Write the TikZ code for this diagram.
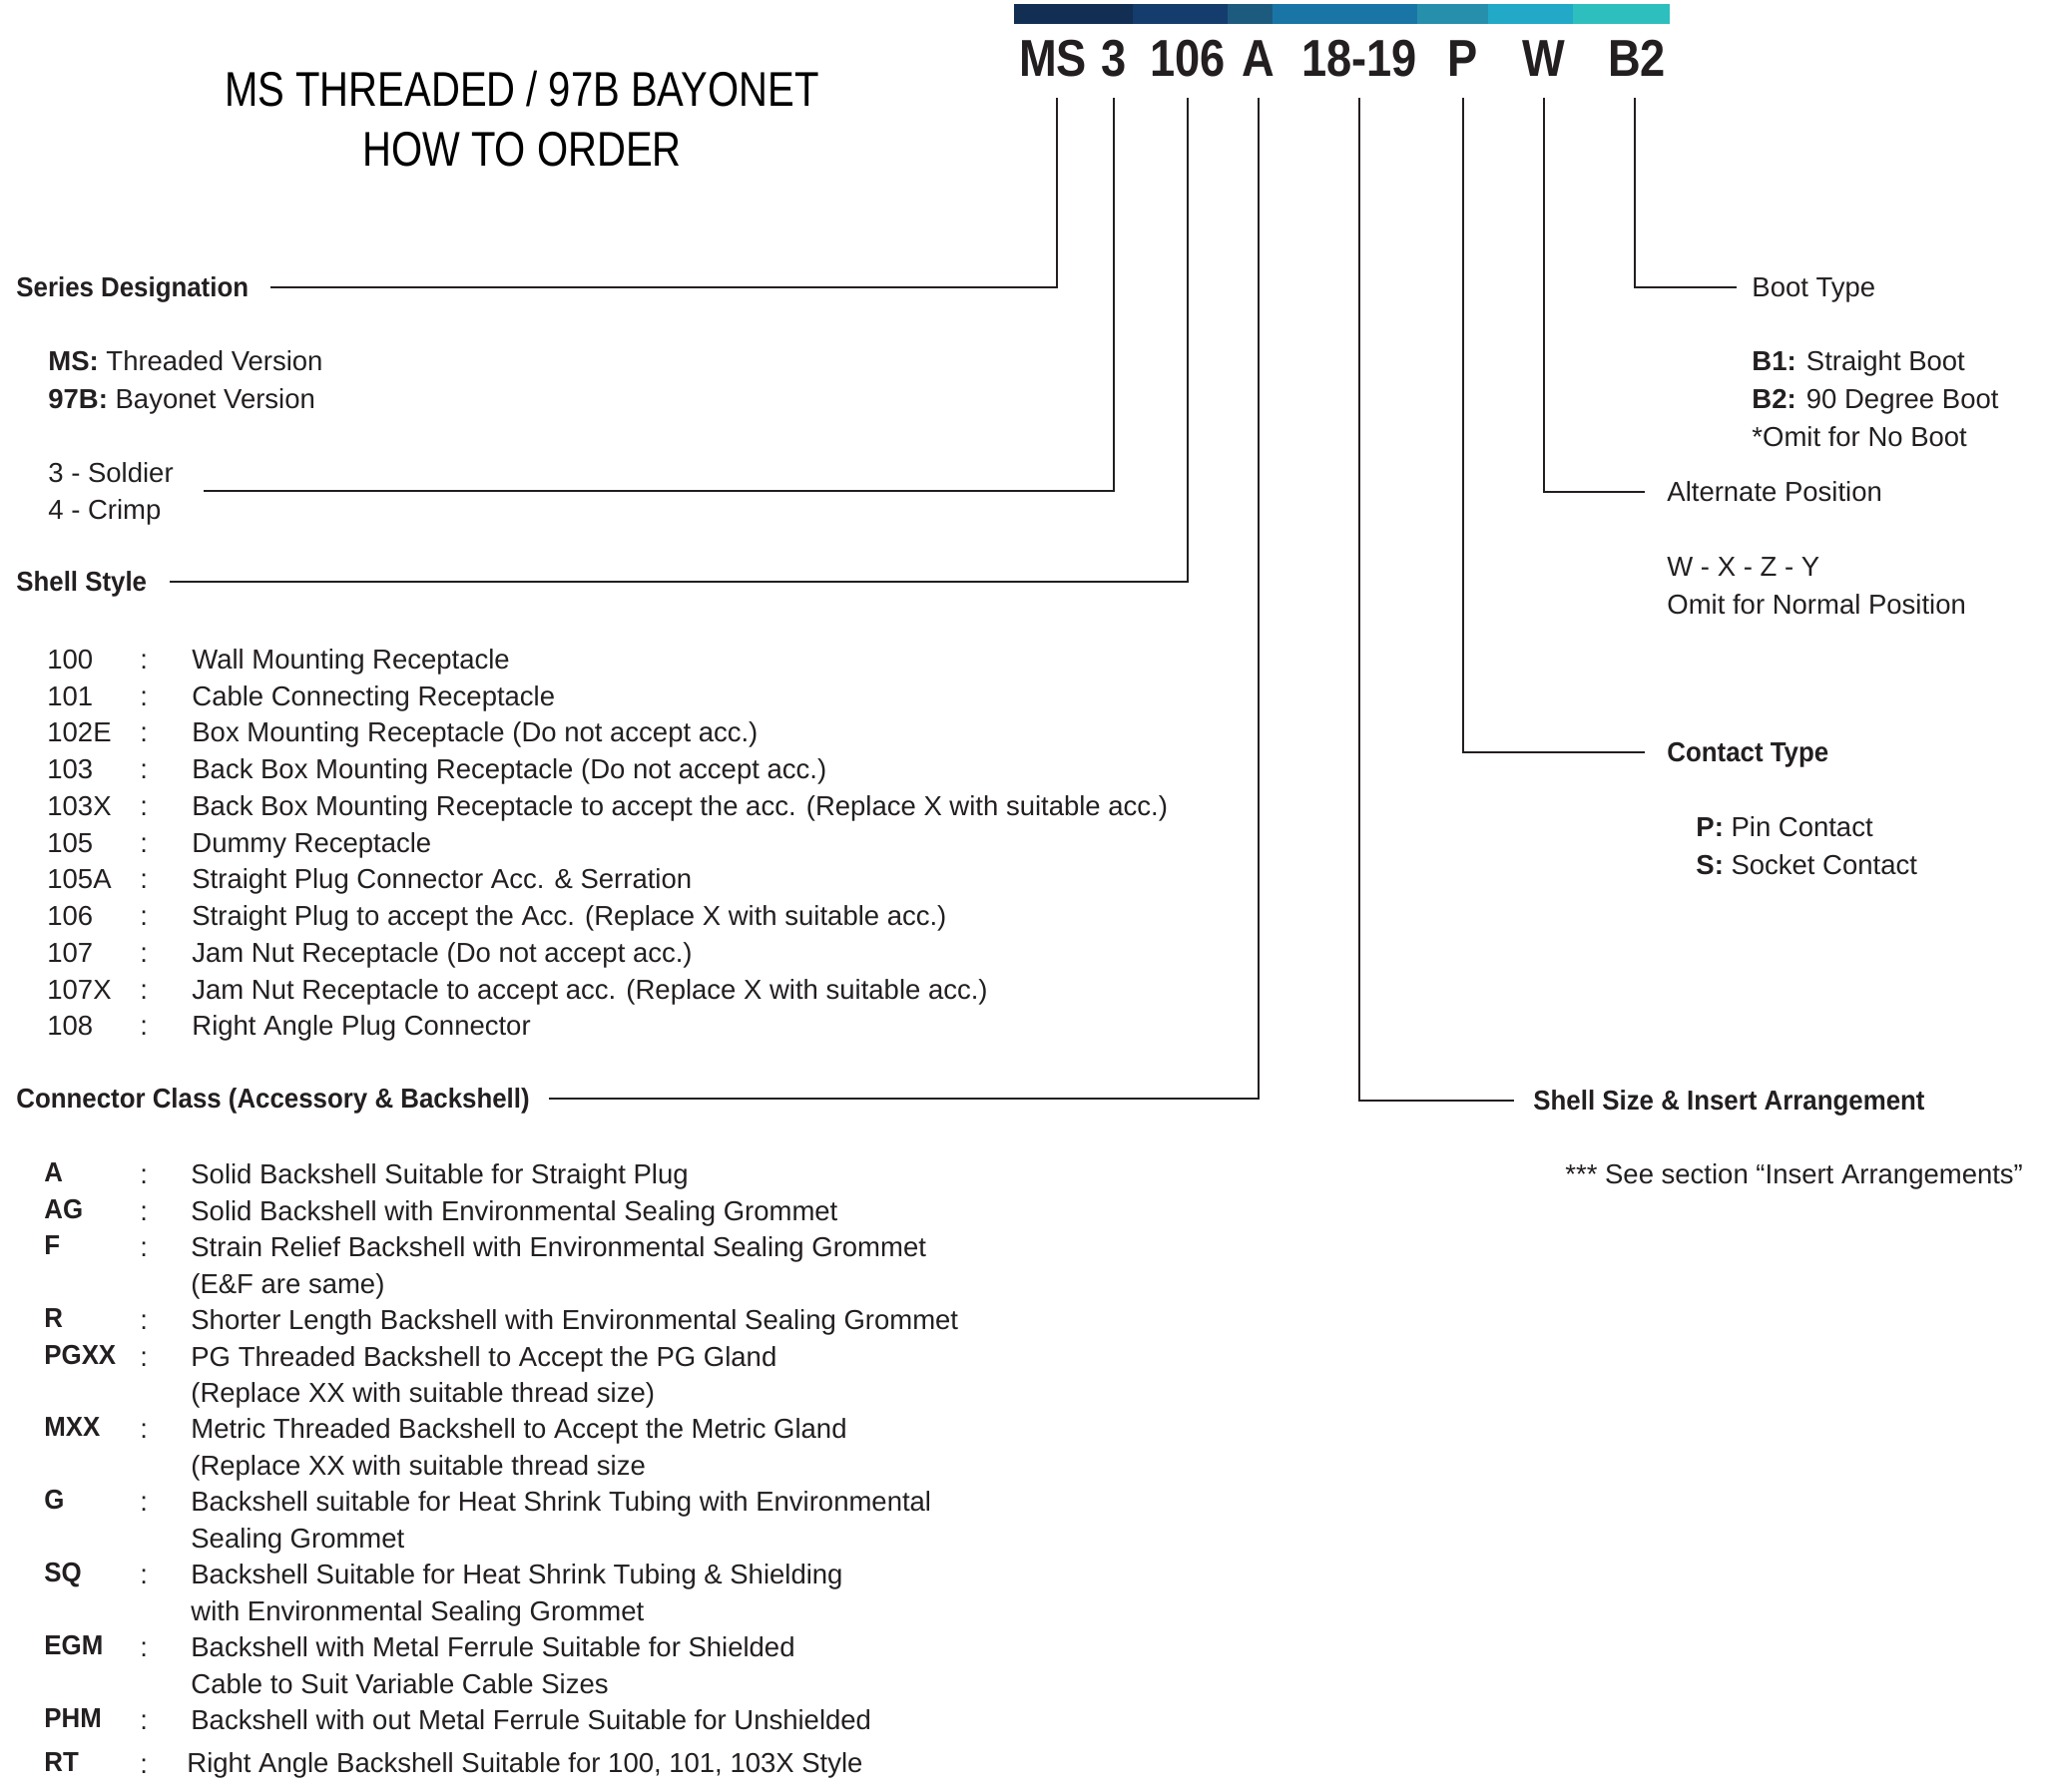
\documentclass[tikz,border=0pt]{standalone}
\usepackage{fontspec}
\setmainfont{Liberation Sans}
\newfontfamily\titlefont{Liberation Sans}[FakeStretch=0.82]
\newfontfamily\partfont{Liberation Sans}[FakeStretch=0.87]
\newfontfamily\headfont{Liberation Sans}[FakeStretch=0.94]
\usetikzlibrary{positioning}
\definecolor{ink}{HTML}{231F20}
\definecolor{bar1}{HTML}{122E52}
\definecolor{bar2}{HTML}{143C6C}
\definecolor{bar3}{HTML}{1D5B7E}
\definecolor{bar4}{HTML}{1A75A7}
\definecolor{bar5}{HTML}{2690AC}
\definecolor{bar6}{HTML}{21A9C7}
\definecolor{bar7}{HTML}{2DBFBE}
\tikzset{
  lbl/.style={anchor=west, inner sep=0pt, text height=9.8pt, text depth=0pt,
    text=ink, font=\fontsize{13.75}{16}\selectfont},
  hd/.style={lbl, font=\headfont\bfseries\fontsize{13.75}{16}\selectfont},
  title/.style={inner sep=0pt, text height=17.5pt, text depth=0pt,
    text=black, font=\titlefont\fontsize{24.4}{28}\selectfont},
  part/.style={anchor=base, inner sep=0pt, text depth=0pt, text=ink,
    font=\partfont\bfseries\fontsize{26}{28}\selectfont},
  leader/.style={draw=ink, line width=1pt},
}

\begin{document}
\begin{tikzpicture}[x=0.5pt, y=-0.5pt]
  \useasboundingbox (0,0) rectangle (2051,1795);
  % colour bar over the part number
  \foreach \xa/\xb/\c in {1016/1135/bar1, 1135/1230/bar2, 1230/1275/bar3,
      1275/1420/bar4, 1420/1491/bar5, 1491/1576/bar6, 1576/1673/bar7}
    \fill[\c] (\xa,4) rectangle (\xb,24);
  % title
  \node[title] (title1) at (523,89) {MS THREADED / 97B BAYONET};
  \node[title] (title2) at (523,149) {HOW TO ORDER};
  % part number
  \node[part] (ms) at (1055,76) {MS};
  \node[part] (three) at (1116,76) {3};
  \node[part] (style) at (1190,76) {106};
  \node[part] (cls) at (1261,76) {A};
  \node[part] (size) at (1362,76) {18-19};
  \node[part] (pin) at (1466,76) {P};
  \node[part] (pos) at (1547,76) {W};
  \node[part] (boot) at (1640,76) {B2};

  % left column
  \node[hd] (series) at (16,288) {Series Designation};
  \node[lbl] (ms1) at (48,362) {{\bfseries MS:} Threaded Version};
  \node[lbl] (ms2) at (48,400) {{\bfseries 97B:} Bayonet Version};
  \node[lbl] (soldier) at (48,474) {3 - Soldier};
  \node[lbl] (crimp) at (48,511) {4 - Crimp};
  \coordinate (solderend) at (204,492);
  \node[hd] (shell) at (16,583) {Shell Style};
  \foreach \code/\desc [count=\i from 0] in {
      100/Wall Mounting Receptacle,
      101/Cable Connecting Receptacle,
      102E/Box Mounting Receptacle (Do not accept acc.),
      103/Back Box Mounting Receptacle (Do not accept acc.),
      103X/Back Box Mounting Receptacle to accept the acc. (Replace X with suitable acc.),
      105/Dummy Receptacle,
      105A/Straight Plug Connector Acc. \& Serration,
      106/Straight Plug to accept the Acc. (Replace X with suitable acc.),
      107/Jam Nut Receptacle (Do not accept acc.),
      107X/Jam Nut Receptacle to accept acc. (Replace X with suitable acc.),
      108/Right Angle Plug Connector}
  {
    \node[lbl] (ss-code-\i) at (47,660.5+36.75*\i) {\code};
    \node[lbl] (ss-colon-\i) at (140,660.5+36.75*\i) {:};
    \node[lbl] (ss-desc-\i) at (192,660.5+36.75*\i) {\desc};
  }
  \node[hd] (connector) at (16,1101) {Connector Class (Accessory \& Backshell)};
  \foreach \r/\code in {0/A, 1/AG, 2/F, 4/R, 5/PGXX, 7/MXX, 9/G, 11/SQ,
      13/EGM, 15/PHM, 16.2/RT}
  {
    \node[hd] (cc-code-\code) at (44,1175+36.45*\r) {\code};
    \node[lbl] (cc-colon-\code) at (140,1177+36.45*\r) {:};
  }
  \foreach \r/\desc in {
      0/Solid Backshell Suitable for Straight Plug,
      1/Solid Backshell with Environmental Sealing Grommet,
      2/Strain Relief Backshell with Environmental Sealing Grommet,
      3/(E\&F are same),
      4/Shorter Length Backshell with Environmental Sealing Grommet,
      5/PG Threaded Backshell to Accept the PG Gland,
      6/(Replace XX with suitable thread size),
      7/Metric Threaded Backshell to Accept the Metric Gland,
      8/(Replace XX with suitable thread size,
      9/Backshell suitable for Heat Shrink Tubing with Environmental,
      10/Sealing Grommet,
      11/Backshell Suitable for Heat Shrink Tubing \& Shielding,
      12/with Environmental Sealing Grommet,
      13/Backshell with Metal Ferrule Suitable for Shielded,
      14/Cable to Suit Variable Cable Sizes,
      15/Backshell with out Metal Ferrule Suitable for Unshielded}
    \node[lbl] (cc-desc-\r) at (191,1177+36.45*\r) {\desc};
  \node[lbl] (cc-desc-rt) at (187,1767) {Right Angle Backshell Suitable for 100, 101, 103X Style};

  % right column
  \node[lbl] (boottype) at (1755,288) {Boot Type};
  \node[lbl] (b1) at (1755,362) {{\bfseries B1:} Straight Boot};
  \node[lbl] (b2) at (1755,400) {{\bfseries B2:} 90 Degree Boot};
  \node[lbl] (noboot) at (1755,438) {*Omit for No Boot};
  \node[lbl] (altpos) at (1670,493) {Alternate Position};
  \node[lbl] (wxzy) at (1670,568) {W - X - Z - Y};
  \node[lbl] (normal) at (1670,606) {Omit for Normal Position};
  \node[hd] (contact) at (1670,754) {Contact Type};
  \node[lbl] (pinc) at (1699,829) {{\bfseries P:} Pin Contact};
  \node[lbl] (sockc) at (1699,867) {{\bfseries S:} Socket Contact};
  \node[hd] (shellsize) at (1536,1103) {Shell Size \& Insert Arrangement};
  \node[lbl] (seesec) at (1568,1177) {*** See section “Insert Arrangements”};

  % leaders
  \draw[leader] ([xshift=2pt,yshift=-11pt]ms.south) |- ([xshift=10.5pt]series.east);
  \draw[leader] ([yshift=-11pt]three.south) |- (solderend);
  \draw[leader] ([yshift=-11pt]style.south) |- ([xshift=11pt]shell.east);
  \draw[leader] ([yshift=-11pt]cls.south) |- ([xshift=9.5pt]connector.east);
  \draw[leader] ([yshift=-11pt]size.south) |- ([xshift=-9.5pt]shellsize.west);
  \draw[leader] ([yshift=-11pt]pin.south) |- ([xshift=-11pt]contact.west);
  \draw[leader] ([yshift=-11pt]pos.south) |- ([xshift=-11pt]altpos.west);
  \draw[leader] ([xshift=-1pt,yshift=-11pt]boot.south) |- ([xshift=-7.5pt]boottype.west);
\end{tikzpicture}
\end{document}
